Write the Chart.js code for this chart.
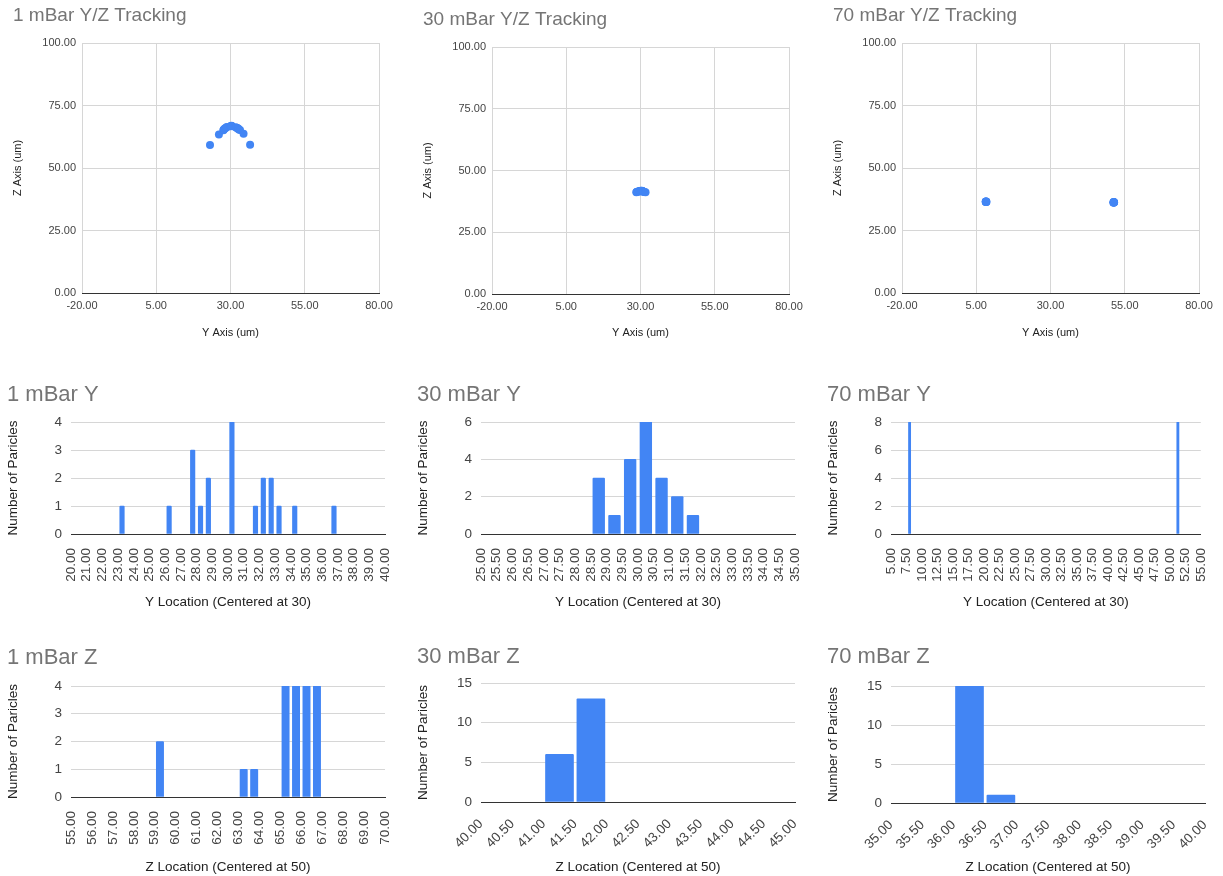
<!DOCTYPE html>
<html>
<head>
<meta charset="utf-8">
<script src="https://cdn.jsdelivr.net/npm/chart.js@4.4.1/dist/chart.umd.min.js"></script>
<style>
  body { margin: 0; background: #fff; width: 1223px; height: 876px; position: relative; overflow: hidden; }
  canvas { position: absolute; }
</style>
</head>
<body>
<canvas id="yz1" width="410" height="345" style="left:0;top:0"></canvas>
<canvas id="yz30" width="410" height="345" style="left:410px;top:4px"></canvas>
<canvas id="yz70" width="403" height="345" style="left:820px;top:0"></canvas>
<canvas id="h1y" width="410" height="240" style="left:0;top:378px"></canvas>
<canvas id="h30y" width="410" height="240" style="left:410px;top:378px"></canvas>
<canvas id="h70y" width="403" height="240" style="left:820px;top:378px"></canvas>
<canvas id="h1z" width="410" height="238" style="left:0;top:638px"></canvas>
<canvas id="h30z" width="410" height="238" style="left:410px;top:638px"></canvas>
<canvas id="h70z" width="403" height="238" style="left:820px;top:638px"></canvas>
<script>
const BLUE = '#4285f4';
const GRID = '#d6d6d6';
Chart.defaults.font.family = 'Arial, "Liberation Sans", sans-serif';
Chart.defaults.color = '#444';

// Y/Z tracking positions (um)
const yz1Y = [23.1, 26.1, 27.6, 27.7, 27.9, 28.2, 28.6, 28.8, 30.1, 30.2, 30.3, 30.4, 31.7, 32.1, 32.3, 32.6, 32.8, 33.2, 34.4, 36.6];
const yz1Z = [59.2, 63.4, 65.1, 65.3, 65.6, 65.9, 66.2, 66.4, 66.7, 66.8, 66.9, 66.8, 66.3, 66.1, 65.9, 65.8, 65.4, 65.2, 63.7, 59.3];
const yz30Y = [28.6, 28.7, 28.9, 29.2, 29.6, 29.7, 29.8, 29.9, 30.0, 30.1, 30.2, 30.3, 30.4, 30.45, 30.6, 30.7, 30.9, 31.1, 31.3, 31.7];
const yz30Z = [41.2, 41.3, 41.4, 41.5, 41.6, 41.7, 41.6, 41.7, 41.6, 41.8, 41.7, 41.6, 41.7, 41.8, 41.7, 41.6, 41.5, 41.4, 41.3, 41.2];
const yz70Y = [8.2, 8.3, 8.4, 8.2, 8.3, 8.4, 8.3, 8.2, 51.2, 51.3, 51.4, 51.3, 51.2, 51.3, 51.4, 51.3];
const yz70Z = [36.5, 36.6, 36.4, 36.5, 36.6, 36.5, 36.4, 36.5, 36.2, 36.3, 36.2, 36.3, 36.2, 36.4, 36.3, 36.2];

// histogram buckets (centre of each 0.5 bucket) and particle counts
const h1yBins = [23.25, 26.25, 27.75, 28.25, 28.75, 30.25, 31.75, 32.25, 32.75, 33.25, 34.25, 36.75];
const h1yCounts = [1, 1, 3, 1, 2, 4, 1, 2, 2, 1, 1, 1];
const h30yBins = [28.75, 29.25, 29.75, 30.25, 30.75, 31.25, 31.75];
const h30yCounts = [3, 1, 4, 6, 3, 2, 1];
const h70yBins = [8.0, 51.3];
const h70yCounts = [8, 8];
const h1zBins = [59.25, 63.25, 63.75, 65.25, 65.75, 66.25, 66.75];
const h1zCounts = [2, 1, 1, 4, 4, 4, 4];
const h30zBins = [41.25, 41.75];
const h30zCounts = [6, 13];
const h70zBins = [36.25, 36.75];
const h70zCounts = [15, 1];

const fmt2 = v => Number(v).toFixed(2);

function scatterChart(id, title, ys, zs, padRight, xHeight, xTitlePad) {
    return new Chart(document.getElementById(id), {
        type: 'scatter',
        data: {
            datasets: [{
                data: ys.map((y, i) => ({ x: y, y: zs[i] })),
                backgroundColor: BLUE,
                borderWidth: 0,
                pointRadius: 4,
                pointHoverRadius: 4
            }]
        },
        options: {
            responsive: false,
            animation: false,
            layout: { padding: { left: 13, right: padRight } },
            plugins: {
                legend: { display: false },
                tooltip: { enabled: false },
                title: {
                    display: true, text: title, align: 'start', color: '#757575',
                    font: { size: 19, weight: 'normal' },
                    padding: { top: 4.6, bottom: 15.6 }
                }
            },
            scales: {
                x: {
                    type: 'linear', min: -20, max: 80,
                    ticks: { stepSize: 25, callback: fmt2, font: { size: 11 }, padding: 6, maxRotation: 0 },
                    grid: { color: GRID, drawTicks: false },
                    border: { color: '#333' },
                    title: { display: true, text: 'Y Axis (um)', color: '#222', font: { size: 11 }, padding: { top: 4, bottom: xTitlePad } },
                    afterFit: s => { s.height = xHeight; }
                },
                y: {
                    min: 0, max: 100,
                    ticks: { stepSize: 25, callback: fmt2, font: { size: 11 }, padding: 6 },
                    grid: { color: GRID, drawTicks: false },
                    border: { display: false },
                    title: { display: true, text: 'Z Axis (um)', color: '#222', font: { size: 11 }, padding: { top: -1.6, bottom: 0 } },
                    afterFit: s => { s.width = 69; }
                }
            }
        }
    });
}

function histChart(id, cfg) {
    return new Chart(document.getElementById(id), {
        type: 'bar',
        data: {
            datasets: [{
                data: cfg.bins.map((b, i) => ({ x: b, y: cfg.counts[i] })),
                backgroundColor: BLUE,
                barThickness: cfg.bar,
                borderRadius: 1
            }]
        },
        options: {
            responsive: false,
            animation: false,
            layout: { padding: { left: 7, right: cfg.padRight } },
            plugins: {
                legend: { display: false },
                tooltip: { enabled: false },
                title: {
                    display: true, text: cfg.title, align: 'start', color: '#757575',
                    font: { size: 22, weight: 'normal' },
                    padding: { top: cfg.titleTop, bottom: cfg.titleBottom }
                }
            },
            scales: {
                x: {
                    type: 'linear', offset: false, min: cfg.xMin, max: cfg.xMax,
                    ticks: {
                        stepSize: cfg.xStep, callback: fmt2, autoSkip: false,
                        minRotation: cfg.rot, maxRotation: cfg.rot,
                        font: { size: 13.5 }, padding: 6
                    },
                    grid: { display: false },
                    border: { color: '#333' },
                    title: { display: true, text: cfg.xTitle, color: '#222', font: { size: 13.5 }, padding: { top: 4, bottom: cfg.xTitlePad } },
                    afterFit: s => { s.height = cfg.xHeight; }
                },
                y: {
                    min: 0, max: cfg.yMax,
                    ticks: { stepSize: cfg.yStep, font: { size: 13.5 }, padding: 9 },
                    grid: { color: GRID, drawTicks: false },
                    border: { display: false },
                    title: { display: true, text: 'Number of Paricles', color: '#222', font: { size: 13.5 }, padding: { top: -2.1, bottom: 0 } },
                    afterFit: s => { s.width = 64; }
                }
            }
        }
    });
}

scatterChart('yz1', '1 mBar Y/Z Tracking', yz1Y, yz1Z, 31, 52, 5.4);
scatterChart('yz30', '30 mBar Y/Z Tracking', yz30Y, yz30Z, 31, 55, 9.4);
scatterChart('yz70', '70 mBar Y/Z Tracking', yz70Y, yz70Z, 24, 52, 5.4);

const yRow = { titleTop: 3.8, titleBottom: 13.8, xHeight: 84, xTitlePad: 7.9, rot: 90, xTitle: 'Y Location (Centered at 30)' };
histChart('h1y', Object.assign({}, yRow, { title: '1 mBar Y', bins: h1yBins, counts: h1yCounts, bar: 4.5, padRight: 25, xMin: 20, xMax: 40, xStep: 1, yMax: 4, yStep: 1 }));
histChart('h30y', Object.assign({}, yRow, { title: '30 mBar Y', bins: h30yBins, counts: h30yCounts, bar: 11.7, padRight: 25, xMin: 25, xMax: 35, xStep: 0.5, yMax: 6, yStep: 2 }));
histChart('h70y', Object.assign({}, yRow, { title: '70 mBar Y', bins: h70yBins, counts: h70yCounts, bar: 2.2, padRight: 18, xMin: 5, xMax: 55, xStep: 2.5, yMax: 8, yStep: 2 }));

const zRow = { xTitlePad: 0.9, xTitle: 'Z Location (Centered at 50)' };
histChart('h1z', Object.assign({}, zRow, { title: '1 mBar Z', bins: h1zBins, counts: h1zCounts, bar: 7.3, padRight: 25, titleTop: 6.8, titleBottom: 14.8, xHeight: 79, rot: 90, xMin: 55, xMax: 70, xStep: 1, yMax: 4, yStep: 1 }));
histChart('h30z', Object.assign({}, zRow, { title: '30 mBar Z', bins: h30zBins, counts: h30zCounts, bar: 28, padRight: 25, titleTop: 5.8, titleBottom: 12.8, xHeight: 74, rot: 45, xMin: 40, xMax: 45, xStep: 0.5, yMax: 15, yStep: 5 }));
histChart('h70z', Object.assign({}, zRow, { title: '70 mBar Z', bins: h70zBins, counts: h70zCounts, bar: 28, padRight: 18, titleTop: 5.8, titleBottom: 15.8, xHeight: 73, rot: 45, xMin: 35, xMax: 40, xStep: 0.5, yMax: 15, yStep: 5 }));
</script>
</body>
</html>
